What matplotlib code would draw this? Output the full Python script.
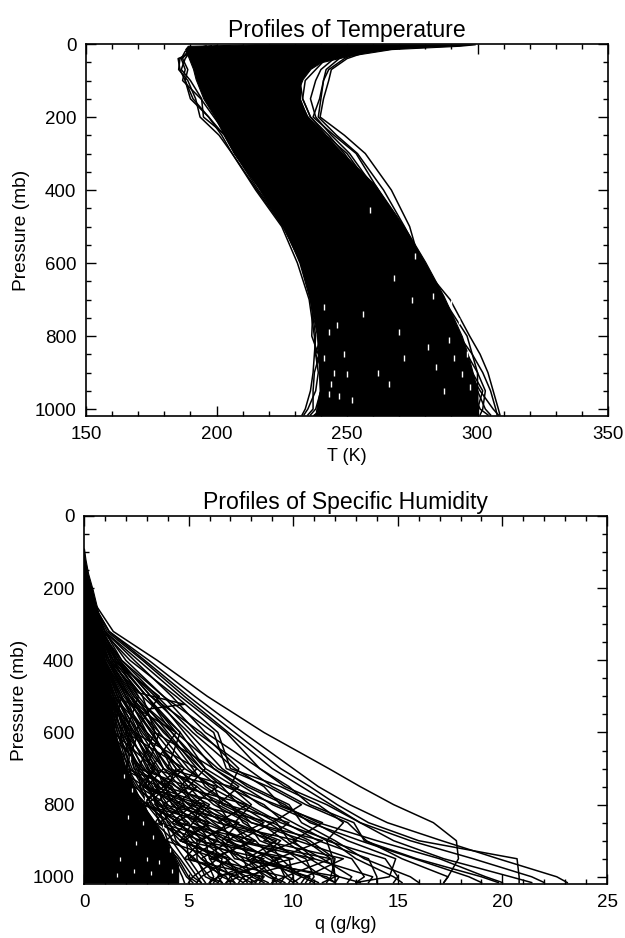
import matplotlib
matplotlib.use("Agg")
import matplotlib.pyplot as plt
from matplotlib.ticker import MultipleLocator

plt.rcParams['font.family'] = ['Liberation Sans', 'DejaVu Sans']

# ---------- Temperature panel ----------
core_p = [1, 5, 14, 32, 50, 68, 96, 114, 150, 196, 251, 297, 388, 507, 597, 690, 800, 855, 950, 1010, 1016]
core_left = [215, 189, 188, 189, 190, 191, 192, 193, 195, 199, 203, 206.5, 215.5, 226, 232, 235.5, 238.5, 239, 239.5, 238, 237]
core_right = [299, 293, 267, 251, 240, 236, 233, 232, 232, 234.5, 242, 248, 261, 272.5, 280, 287, 294, 296.5, 300, 300, 300]

t_levels = [5, 20, 40, 70, 100, 150, 200, 250, 300, 400, 500, 600, 700, 800, 850, 900, 950, 1000, 1016]
t_profiles = [
    [280, 258, 250, 244, 243, 241, 239.7, 249, 257, 267, 274, 278, 289.5, 297, 301, 304, 306, 308, 308.6],
    [270, 255, 249, 243, 241, 240, 239, 246, 254, 264, 272, 279, 287, 296, 298, 302, 305, 307, 307.5],
    [265, 252, 247, 242, 241, 239.5, 237, 245, 253.5, 262, 271, 278, 286, 293, 298, 300, 300, 303, 305],
    [262, 250, 245, 240, 238, 236, 238, 244, 251, 261, 270, 277, 285, 293, 296, 297, 301, 306, 308],
    [258, 246, 242, 238, 234, 233, 236, 242, 250, 260, 269, 277, 284, 291, 294, 296, 298, 301, 304],
    [250, 244, 240, 234, 231, 231.5, 235, 241, 248, 259, 268, 276, 283, 290, 295, 298, 302, 300, 299],
    [240, 236, 234, 232, 230.5, 229, 233, 240, 247, 258, 267, 275, 282, 289, 291, 293, 295, 297, 298],
    [205, 192, 185.3, 186, 188, 190, 197, 203, 207, 216, 226, 232, 236, 238, 237.5, 237, 236, 234, 232.8],
    [200, 190, 186, 185.5, 189, 192, 193.7, 201, 206, 215, 225, 231, 235.5, 237.5, 238, 239, 238, 235, 233.5],
    [198, 188, 186.5, 188, 187, 194, 199, 204, 207, 217, 227, 233, 237, 239, 239.5, 237.5, 237, 237, 235],
    [210, 190, 188, 186.5, 190, 194.3, 195, 203.5, 208, 218, 228, 234, 238, 240, 238, 241, 240, 238, 236],
    [196, 189, 187, 189, 188, 191, 197, 202, 206, 215.5, 225.5, 232.5, 237, 236.5, 239, 240, 242, 240, 238],
    [230, 220, 215, 212, 208, 210, 212, 216, 220, 226, 231, 235, 239, 241, 241, 243, 241, 243, 239],
    [245, 240, 236, 233, 232, 233, 236, 243, 249, 259, 269, 278, 285, 292, 296, 300, 303, 302, 301],
]

t_gap_t = [283, 286, 279, 287, 291, 276, 283, 290, 293, 296, 289, 291, 294, 297, 241, 243, 246, 249, 245, 243,
           247, 241, 244, 252, 250, 262, 266, 272, 270, 281, 284, 268, 275, 287, 259, 256]
t_gap_p = [510, 525, 545, 600, 640, 580, 690, 710, 760, 850, 810, 860, 905, 940, 720, 790, 770, 850, 900, 960,
           965, 860, 930, 975, 905, 900, 930, 860, 790, 830, 885, 640, 700, 950, 455, 740]

# ---------- Humidity panel ----------
core_q_p = [90, 120, 160, 205, 260, 316, 409, 500, 595, 692, 784, 876, 968, 1016]
core_q = [0.0, 0.07, 0.2, 0.42, 0.65, 0.85, 1.0, 1.25, 1.45, 1.95, 2.6, 3.7, 4.5, 4.5]

q_gap_q = [1.9, 2.3, 2.1, 2.8, 2.5, 3.3, 3.0, 1.7, 3.6, 4.1, 2.4, 3.2, 1.6, 2.9, 3.8, 4.2, 2.2]
q_gap_p = [720, 760, 835, 850, 905, 890, 950, 950, 960, 925, 985, 990, 995, 785, 860, 985, 670]

q_levels = [250, 320, 400, 500, 600, 700, 750, 800, 850, 900, 950, 1000, 1016]
q_profiles = [
    [.6, 1.4, 3.5, 5.9, 8.6, 11.7, 13.2, 14.8, 16.7, 17.8, 17.9, 17.4, 17.2],
    [.5, 1.2, 3.1, 5.3, 7.6, 10.0, 11.2, 12.7, 14.5, 17.1, 19.8, 22.6, 23.1],
    [.5, 1.2, 2.9, 5.0, 7.2, 9.4, 10.8, 12.1, 13.6, 16.0, 20.7, 20.8, 20.8],
    [.5, 1.1, 2.8, 4.8, 6.9, 9.0, 10.4, 11.8, 13.2, 15.6, 18.6, 21.4, 22.0],
    [.5, 1.0, 2.6, 4.6, 6.8, 8.4, 9.6, 11.6, 13.2, 14.8, 17.2, 20.4, 21.4],
    [.5, 1.0, 2.4, 4.2, 5.8, 8.4, 9.8, 10.8, 12.9, 13.4, 15.9, 19.0, 19.8],
    [.5, 1.0, 2.0, 3.8, 5.4, 7.8, 9.0, 10.6, 12.6, 13.5, 15.2, 17.4, 17.2],
    [.4, 1.0, 1.8, 3.5, 5.2, 7.2, 8.6, 9.4, 11.2, 14.0, 17.0, 19.2, 20.0],
    [.4, .9, 1.7, 3.2, 5.0, 6.6, 7.8, 9.6, 10.8, 13.2, 15.8, 18.4, 19.0],
    [.4, .9, 1.6, 3.4, 4.8, 6.2, 7.6, 9.0, 11.0, 12.6, 14.9, 14.6, 13.0],
    [.4, .9, 1.5, 3.0, 4.4, 6.4, 8.0, 9.8, 10.4, 12.0, 13.4, 15.6, 16.0],
    [.4, .8, 1.4, 2.8, 4.6, 5.8, 7.2, 8.4, 10.0, 11.6, 11.9, 12.0, 12.0],
    [.4, .8, 1.5, 3.0, 4.2, 5.6, 6.8, 8.6, 9.6, 11.2, 13.6, 14.0, 14.0],
    [.4, .8, 1.3, 2.6, 4.0, 5.4, 6.4, 7.8, 9.4, 11.8, 13.0, 14.8, 15.2],
    [.4, .8, 1.4, 2.4, 3.8, 5.6, 6.6, 7.4, 8.8, 10.2, 12.8, 13.4, 13.0],
    [.3, .7, 1.3, 2.5, 3.6, 5.0, 6.0, 7.6, 9.2, 9.8, 11.4, 12.8, 12.6],
    [.3, .7, 1.2, 2.2, 3.9, 5.2, 5.8, 7.0, 8.0, 10.6, 11.8, 12.0, 11.4],
    [.3, .7, 1.2, 2.3, 3.4, 4.8, 6.2, 6.6, 8.4, 9.6, 10.8, 12.2, 13.2],
    [.3, .7, 1.1, 2.0, 3.2, 4.4, 5.6, 7.0, 7.6, 9.0, 10.2, 11.4, 12.0],
    [.3, .7, 1.1, 2.1, 3.0, 4.6, 5.2, 6.2, 7.8, 8.4, 10.6, 11.0, 10.8],
    [.3, .6, 1.0, 1.9, 3.3, 4.2, 5.0, 5.8, 7.2, 8.8, 9.4, 10.4, 11.0],
    [.3, .6, 1.0, 1.8, 2.9, 4.0, 5.4, 6.4, 7.0, 7.8, 9.8, 10.0, 9.8],
    [.3, .6, 1.0, 2.0, 2.7, 3.8, 4.6, 5.6, 6.8, 8.2, 9.0, 9.8, 10.2],
    [.3, .6, 1.0, 1.7, 2.8, 4.1, 4.8, 5.2, 6.2, 7.4, 8.8, 10.6, 11.2],
    [.3, .6, .9, 1.6, 2.5, 3.6, 4.4, 5.4, 6.6, 7.0, 8.2, 9.0, 9.6],
    [.3, .6, .9, 1.8, 2.6, 3.4, 4.0, 5.0, 6.0, 7.6, 7.8, 8.6, 8.4],
    [.3, .5, .9, 1.5, 2.4, 3.2, 4.2, 4.8, 5.6, 6.8, 8.4, 9.2, 9.0],
    [.3, .5, .9, 1.6, 2.3, 3.5, 3.8, 4.6, 5.8, 6.4, 7.4, 8.8, 9.4],
    [.3, .5, .9, 1.4, 2.2, 3.0, 3.6, 4.4, 5.2, 6.6, 7.6, 8.0, 7.6],
    [.3, .5, .8, 1.5, 2.0, 2.8, 3.9, 4.2, 5.4, 6.0, 7.0, 8.2, 8.8],
    [.2, .5, .8, 1.3, 2.1, 3.1, 3.4, 4.0, 5.0, 5.6, 6.8, 7.4, 8.0],
    [.2, .5, .8, 1.4, 1.9, 2.6, 3.2, 4.3, 4.8, 6.2, 6.4, 7.0, 6.8],
    [.2, .5, .8, 1.2, 1.8, 2.9, 3.5, 3.8, 4.6, 5.2, 6.2, 7.8, 8.2],
    [.2, .4, .7, 1.3, 2.0, 2.5, 3.0, 3.6, 4.4, 5.8, 6.0, 6.6, 7.2],
    [.2, .4, .7, 1.1, 1.7, 2.7, 3.3, 3.4, 4.2, 5.0, 5.8, 6.2, 6.0],
    [.2, .4, .7, 1.2, 1.8, 2.4, 2.9, 3.7, 4.0, 4.8, 5.6, 7.2, 7.6],
    [.2, .4, .7, 1.0, 1.6, 2.3, 2.8, 3.2, 4.5, 5.4, 5.4, 5.8, 6.4],
    [.2, .4, .6, 1.1, 1.7, 2.2, 3.1, 3.5, 3.8, 4.6, 6.6, 6.4, 6.0],
    [.2, .4, .6, 1.0, 1.5, 2.6, 2.7, 3.0, 4.1, 4.4, 5.2, 6.8, 7.0],
    [.2, .4, .6, 1.2, 1.6, 2.1, 2.6, 3.3, 3.6, 4.9, 5.0, 5.6, 5.8],
    [.2, .3, .6, .9, 1.4, 2.0, 2.5, 3.1, 3.9, 4.2, 4.8, 5.4, 5.6],
    [.2, .3, .6, 1.0, 1.5, 1.9, 2.4, 2.8, 3.4, 4.3, 5.3, 6.0, 6.6],
    [.2, .3, .5, .9, 1.3, 2.2, 2.3, 2.9, 3.2, 3.9, 4.6, 5.2, 5.0],
    [.2, .3, .5, .8, 1.4, 1.8, 2.2, 3.0, 3.7, 4.0, 4.4, 4.9, 5.2],
    [.1, .3, .5, .9, 1.2, 1.7, 2.1, 2.7, 3.3, 3.7, 4.5, 5.0, 5.4],
    [.1, .3, .5, .8, 1.3, 1.6, 2.0, 2.6, 3.0, 3.8, 4.3, 4.7, 4.8],
    # irregular profiles with kinks and inversions
    [.3, .6, 1.4, 3.6, 2.4, 5.4, 4.6, 7.8, 6.4, 10.2, 8.0, 11.6, 12.0],
    [.2, .5, 1.0, 1.6, 4.4, 3.2, 6.4, 5.2, 9.0, 7.4, 11.8, 9.6, 10.0],
    [.3, .6, 1.6, 2.6, 2.0, 4.8, 3.8, 6.8, 8.6, 6.8, 9.2, 8.0, 8.6],
    [.2, .4, .8, 2.2, 3.4, 2.6, 5.0, 3.8, 7.4, 5.4, 10.0, 6.4, 6.6],
    [.2, .5, .9, 1.4, 3.0, 4.6, 3.4, 5.8, 4.4, 8.2, 6.0, 9.6, 9.4],
    [.3, .5, 1.2, 2.0, 3.6, 3.0, 4.4, 6.0, 5.2, 7.2, 11.0, 7.6, 7.4],
    [.2, .4, .9, 1.8, 1.4, 3.4, 2.8, 4.6, 7.0, 5.6, 7.8, 10.8, 10.6],
    [.2, .4, .7, 1.5, 2.6, 2.0, 4.2, 3.4, 5.6, 8.0, 6.2, 8.4, 8.2],
    [.1, .3, .6, 1.2, 2.4, 3.8, 3.0, 5.2, 4.2, 6.2, 9.4, 7.0, 7.2],
    [.2, .4, .7, 1.1, 2.2, 1.8, 3.6, 2.8, 6.0, 4.6, 7.0, 5.6, 5.4],
    [.1, .3, .5, 1.0, 1.9, 3.4, 2.6, 4.0, 3.4, 5.6, 4.8, 8.6, 8.0],
    [.2, .4, .6, 1.4, 1.2, 2.8, 3.8, 2.8, 5.0, 3.9, 6.4, 5.2, 5.6],
    [.1, .3, .6, 1.3, 1.8, 1.6, 2.9, 4.8, 3.6, 6.4, 5.0, 7.4, 6.8],
    [.1, .3, .5, 1.0, 2.3, 2.0, 2.4, 3.6, 6.0, 4.8, 8.6, 6.4, 6.2],
    [.3, .7, 1.6, 3.0, 4.6, 4.0, 7.0, 8.0, 7.2, 9.4, 8.4, 10.4, 10.0],
    [.3, .6, 1.2, 2.4, 4.2, 5.8, 5.0, 6.8, 9.8, 8.6, 12.4, 10.6, 10.4],
    [.3, .7, 1.4, 2.8, 3.4, 6.2, 7.4, 6.4, 8.0, 11.4, 9.2, 9.6, 9.0],
    [.4, .8, 1.8, 3.8, 6.2, 6.8, 8.8, 10.4, 9.0, 10.8, 12.0, 11.8, 11.6],
    [.4, .8, 1.7, 3.2, 5.6, 7.4, 7.0, 9.2, 11.4, 10.0, 11.0, 13.8, 13.6],
    [.4, .9, 2.2, 4.4, 6.4, 7.0, 9.4, 11.2, 12.4, 11.6, 14.4, 15.0, 14.8],
    [.3, .6, 1.1, 2.2, 3.2, 4.4, 4.0, 5.0, 7.4, 6.6, 7.2, 12.2, 12.0],
    [.2, .5, .9, 1.7, 3.0, 3.8, 5.4, 4.4, 6.4, 9.2, 7.8, 9.0, 9.2],
    [.2, .4, .8, 1.3, 2.4, 3.3, 2.9, 5.6, 5.2, 4.6, 6.8, 7.6, 7.8],
    [.2, .4, .7, 1.2, 2.1, 2.4, 4.0, 3.0, 4.6, 7.0, 5.6, 6.6, 6.4],
]

spike_p = [400, 490, 522, 535, 560, 600]
spike_q = [1.2, 2.6, 4.8, 3.1, 3.6, 4.4]

# ---------- Tick labels ----------
t_ticks = [150, 200, 250, 300, 350]
q_ticks = [0, 5, 10, 15, 20, 25]
p_ticks = [0, 200, 400, 600, 800, 1000]

W, H = 625, 938
fig = plt.figure(figsize=(W / 100, H / 100), dpi=100, facecolor='white')
ax1 = fig.add_axes([86 / W, 1 - 416 / H, 522 / W, 372 / H])
ax2 = fig.add_axes([84 / W, 1 - 884 / H, 523 / W, 368 / H])


def style(ax, xt, xminor, xl, ylim, title, xlabel):
    ax.set_xlim(*xl)
    ax.set_ylim(*ylim)
    ax.set_xticks(xt)
    ax.set_yticks(p_ticks)
    ax.xaxis.set_minor_locator(MultipleLocator(xminor))
    ax.yaxis.set_minor_locator(MultipleLocator(50))
    ax.tick_params(which='major', direction='in', top=True, right=True, length=7, width=1.0,
                   labelsize=13.5, pad=7)
    ax.tick_params(which='minor', direction='in', top=True, right=True, length=3.5, width=1.0)
    ax.set_title(title, fontsize=16.6, pad=5)
    ax.set_xlabel(xlabel, fontsize=13, labelpad=4)
    ax.set_ylabel('Pressure (mb)', fontsize=13.8, labelpad=3)
    for s in ax.spines.values():
        s.set_linewidth(1.2)
        s.set_zorder(5)


ax1.fill_betweenx(core_p, core_left, core_right, color='black', lw=0.8)
for prof in t_profiles:
    ax1.plot(prof, t_levels, color='black', lw=1.1)
ax1.plot(t_gap_t, t_gap_p, ls='none', marker='|', ms=4, mew=1.0, color='white')
style(ax1, t_ticks, 10, (150, 350), (1019, 0), 'Profiles of Temperature', 'T (K)')

ax2.fill_betweenx(core_q_p, [0] * len(core_q), core_q, color='black', lw=0.8)
for prof in q_profiles:
    ax2.plot(prof, q_levels, color='black', lw=1.1)
ax2.plot(spike_q, spike_p, color='black', lw=1.1)
ax2.plot(q_gap_q, q_gap_p, ls='none', marker='|', ms=3, mew=0.9, color='white')
style(ax2, q_ticks, 1, (0, 25), (1020, 0), 'Profiles of Specific Humidity', 'q (g/kg)')

fig.savefig('out.png', dpi=100)
